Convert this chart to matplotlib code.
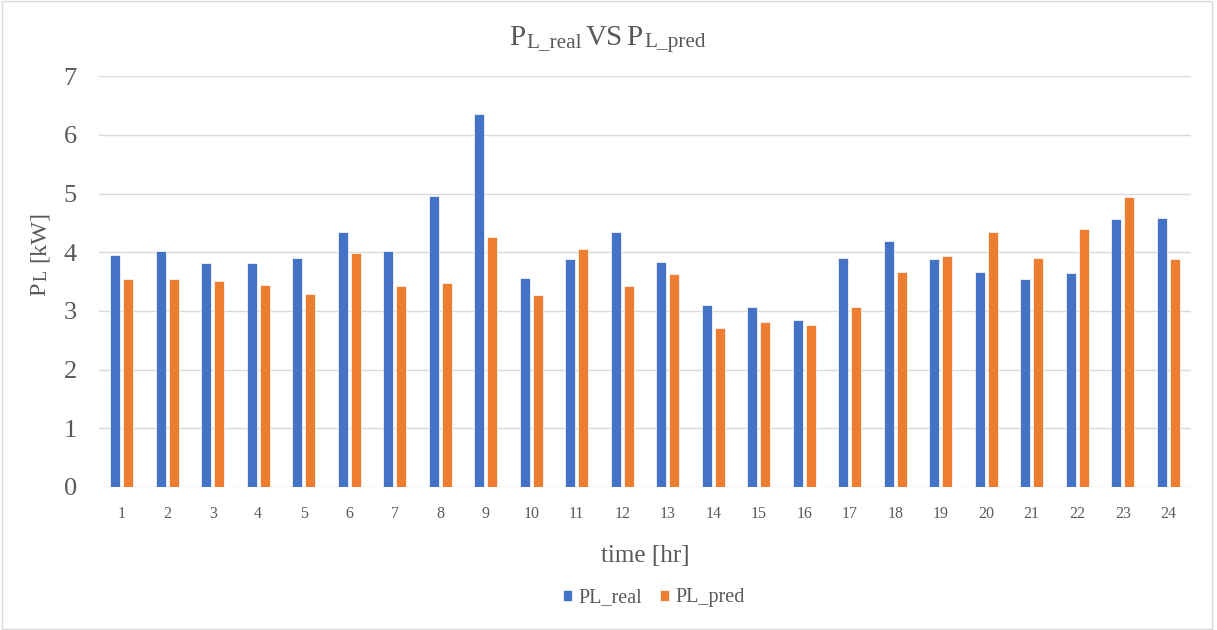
import numpy as np
import matplotlib.pyplot as plt
import matplotlib.transforms as mtransforms
from matplotlib.patches import Rectangle

hours = [str(h) for h in range(1, 25)]
pl_real = [3.95, 4.03, 3.81, 3.81, 3.91, 4.35, 4.03, 4.96, 6.35, 3.57, 3.88, 4.34,
           3.84, 3.10, 3.07, 2.85, 3.91, 4.20, 3.89, 3.67, 3.55, 3.65, 4.56, 4.59]
pl_pred = [3.55, 3.55, 3.51, 3.44, 3.29, 3.99, 3.42, 3.48, 4.26, 3.28, 4.06, 3.43,
           3.63, 2.71, 2.82, 2.76, 3.06, 3.66, 3.94, 4.35, 3.91, 4.39, 4.94, 3.89]

plt.rcParams['font.family'] = ['Liberation Serif', 'DejaVu Serif']

grey = '#595959'
blue = '#4472C4'
orange = '#ED7D31'

fig = plt.figure(figsize=(12.17, 6.3), dpi=100)
ax = fig.add_axes([0.0813, 0.227, 0.8973, 0.652])


def rich_text(x, y, parts, rotation=0):
    # parts: (text, size, baseline shift in px, gap before in px)
    r = fig.canvas.get_renderer()
    widths = []
    for s, size, _, _ in parts:
        t = fig.text(0, 0, s, fontsize=size)
        widths.append(t.get_window_extent(r).width)
        t.remove()
    total = sum(widths) + sum(p[3] for p in parts)
    pos = -total / 2
    for (s, size, dy, gap), w in zip(parts, widths):
        pos += gap
        if rotation == 90:
            ox, oy = -dy, pos
        else:
            ox, oy = pos, dy
        tr = mtransforms.offset_copy(fig.transFigure, fig=fig, x=ox, y=oy, units='dots')
        fig.text(x, y, s, fontsize=size, color=grey, ha='left', va='baseline',
                 rotation=rotation, rotation_mode='anchor', transform=tr)
        pos += w


x = np.arange(len(hours))
w = 0.22
ax.bar(x - 0.14, pl_real, w, color=blue, edgecolor='white', linewidth=0.5, label='PL_real', zorder=3)
ax.bar(x + 0.14, pl_pred, w, color=orange, edgecolor='white', linewidth=0.5, label='PL_pred', zorder=3)

ax.set_xlim(-0.5, len(hours) - 0.5)
ax.set_ylim(0, 7)
ax.set_yticks(range(0, 8))
ax.set_xticks(x)
ax.set_xticklabels(hours)
ax.tick_params(axis='y', length=0, pad=16, labelsize=19, labelcolor=grey)
ax.tick_params(axis='x', length=0, pad=14, labelsize=11.5, labelcolor=grey)
ax.grid(axis='y', color='#d9d9d9', linewidth=1, zorder=0)
for s in ax.spines.values():
    s.set_visible(False)

# title and axis labels with small "L" subscripts
rich_text(0.4992, 0.929, [('P', 21, 0, 0), ('L_real', 15.3, -2.5, 2),
                          ('VS', 21, 0, 3), ('P', 21, 0, 4), ('L_pred', 15.3, -2.5, 2)])
rich_text(0.037, 0.598, [('P', 17.5, 0, 0), ('L', 13, -1.5, 2), ('[kW]', 17.5, 0, 8)],
          rotation=90)
fig.text(0.530, 0.1175, 'time [hr]', fontsize=18, color=grey, ha='center', va='center')

leg = fig.legend(loc='center', bbox_to_anchor=(0.5375, 0.051), ncol=2, frameon=False,
                 fontsize=14.5, handlelength=0.45, handleheight=0.45, handletextpad=0.3,
                 columnspacing=0.9)
for t in leg.get_texts():
    t.set_color(grey)

fig.patches.append(Rectangle((0.002, 0.002), 0.994, 0.996, transform=fig.transFigure,
                             fill=False, edgecolor='#d9d9d9', linewidth=1))

fig.savefig('out.png', dpi=100)
